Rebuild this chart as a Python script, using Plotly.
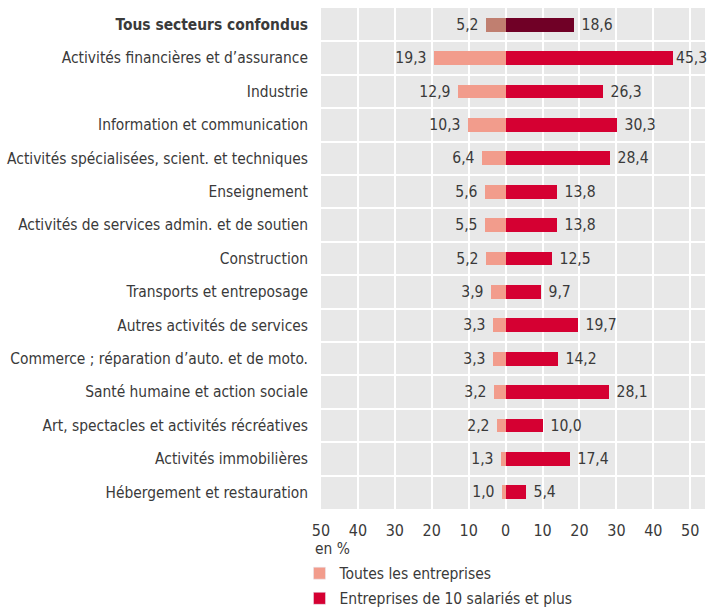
import plotly.graph_objects as go

categories = [
    "Tous secteurs confondus",
    "Activités financières et d’assurance",
    "Industrie",
    "Information et communication",
    "Activités spécialisées, scient. et techniques",
    "Enseignement",
    "Activités de services admin. et de soutien",
    "Construction",
    "Transports et entreposage",
    "Autres activités de services",
    "Commerce ; réparation d’auto. et de moto.",
    "Santé humaine et action sociale",
    "Art, spectacles et activités récréatives",
    "Activités immobilières",
    "Hébergement et restauration",
]
toutes = [5.2, 19.3, 12.9, 10.3, 6.4, 5.6, 5.5, 5.2, 3.9, 3.3, 3.3, 3.2, 2.2, 1.3, 1.0]
dix_plus = [18.6, 45.3, 26.3, 30.3, 28.4, 13.8, 13.8, 12.5, 9.7, 19.7, 14.2, 28.1, 10.0, 17.4, 5.4]
x_ticks = [-50, -40, -30, -20, -10, 0, 10, 20, 30, 40, 50]
series_names = ["Toutes les entreprises", "Entreprises de 10 salariés et plus"]

FONT = "DejaVu Sans Condensed, Liberation Sans Narrow, Arial Narrow, sans-serif"
TXT = "#3a3a3a"
C_LEFT, C_RIGHT = "#F29C8C", "#D50032"
C_LEFT_HI, C_RIGHT_HI = "#C07F70", "#700026"
FS = 15.4
X_MAX = 54

n = len(categories)
ypos = [n - 1 - i for i in range(n)]
left_colors = [C_LEFT_HI if i == 0 else C_LEFT for i in range(n)]
right_colors = [C_RIGHT_HI if i == 0 else C_RIGHT for i in range(n)]
fmt = lambda v: f"{v:.1f}".replace(".", ",")
# labels near the right edge touch their bar (as in the original)
right_text = [(" " + fmt(v)) if v < 40 else fmt(v) for v in dix_plus]

fig = go.Figure()
fig.add_trace(go.Bar(
    y=ypos, x=[-v for v in toutes], orientation="h", width=0.41,
    marker=dict(color=left_colors, line=dict(width=0)),
    text=[fmt(v) + " " for v in toutes], textposition="outside",
    constraintext="none",
    textfont=dict(family=FONT, size=15.6, color=TXT), cliponaxis=False,
    showlegend=False, hoverinfo="skip",
))
fig.add_trace(go.Bar(
    y=ypos, x=dix_plus, orientation="h", width=0.41,
    marker=dict(color=right_colors, line=dict(width=0)),
    text=right_text, textposition="outside",
    constraintext="none",
    textfont=dict(family=FONT, size=15.6, color=TXT), cliponaxis=False,
    showlegend=False, hoverinfo="skip",
))
# legend-only entries
for k, (name, col) in enumerate(zip(series_names, [C_LEFT, C_RIGHT])):
    fig.add_trace(go.Bar(x=[None], y=[None], name=name, marker_color=col,
                         orientation="h", showlegend=True, legendgroup=f"g{k}"))

fig.update_layout(
    width=707, height=608,
    margin=dict(l=321, r=2, t=8, b=99, autoexpand=False),
    paper_bgcolor="white", plot_bgcolor="#E8E8E8",
    barmode="overlay", bargap=0,
    font=dict(family=FONT, size=FS, color=TXT),
    legend=dict(
        x=-0.056, xanchor="left", y=-0.095, yanchor="top",
        orientation="v", font=dict(family=FONT, size=15.5, color=TXT),
        bgcolor="rgba(0,0,0,0)", itemclick=False, tracegroupgap=2,
    ),
)
fig.update_xaxes(
    range=[-50, X_MAX], tickvals=x_ticks, ticktext=[str(abs(v)) for v in x_ticks],
    showgrid=True, gridcolor="white", gridwidth=2, zeroline=False,
    showline=False, ticks="", ticklabelstandoff=10, automargin=False,
    tickfont=dict(family=FONT, size=16, color=TXT), fixedrange=True,
)
fig.update_yaxes(
    range=[-0.5, n - 0.5], tickvals=ypos,
    ticktext=[f"<b>{c}</b>" if i == 0 else c for i, c in enumerate(categories)],
    showgrid=False, zeroline=False, showline=False, ticks="",
    ticklabelstandoff=12, automargin=False,
    tickfont=dict(family=FONT, size=FS, color=TXT),
    minor=dict(tickvals=[k + 0.5 for k in range(-1, n)], showgrid=True,
               gridcolor="white", gridwidth=2, ticks=""),
    fixedrange=True,
)
fig.add_annotation(
    text="en %", xref="paper", yref="paper", x=-0.021, y=-0.058,
    xanchor="left", yanchor="top", showarrow=False,
    font=dict(family=FONT, size=FS, color=TXT),
)
fig.write_html("out.html", config={"displayModeBar": False},
               post_script="document.body.style.margin='0';")
